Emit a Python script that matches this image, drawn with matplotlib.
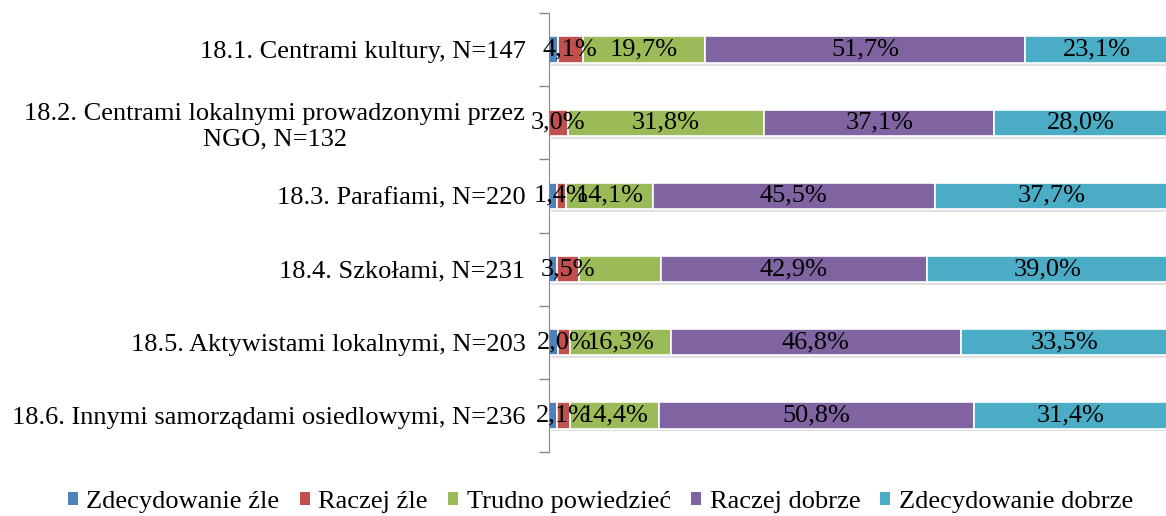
import numpy as np
import matplotlib.pyplot as plt
import matplotlib.patheffects as pe
from matplotlib.patches import Patch

plt.rcParams['font.family'] = ['Liberation Serif', 'DejaVu Serif']

categories = [
    '18.1. Centrami kultury, N=147',
    '18.2. Centrami lokalnymi prowadzonymi przez\nNGO, N=132',
    '18.3. Parafiami, N=220',
    '18.4. Szkołami, N=231',
    '18.5. Aktywistami lokalnymi, N=203',
    '18.6. Innymi samorządami osiedlowymi, N=236',
]
series_names = ['Zdecydowanie źle', 'Raczej źle', 'Trudno powiedzieć',
                'Raczej dobrze', 'Zdecydowanie dobrze']
zdecydowanie_zle = [1.4, 0.0, 1.3, 1.3, 1.4, 1.3]
raczej_zle = [4.1, 3.0, 1.4, 3.5, 2.0, 2.1]
trudno = [19.7, 31.8, 14.1, 13.3, 16.3, 14.4]
raczej_dobrze = [51.7, 37.1, 45.5, 42.9, 46.8, 50.8]
zdecydowanie_dobrze = [23.1, 28.0, 37.7, 39.0, 33.5, 31.4]
# which segments carry a value label in the original
show_label = [
    [False] * 6,
    [True] * 6,
    [True, True, True, False, True, True],
    [True] * 6,
    [True] * 6,
]
colors = ['#4F81BD', '#C0504D', '#9BBB59', '#8064A2', '#4BACC6']

data = [zdecydowanie_zle, raczej_zle, trudno, raczej_dobrze, zdecydowanie_dobrze]

fig = plt.figure(figsize=(11.66, 5.16), dpi=100)
ax = fig.add_axes([549 / 1166, 64 / 516, 619 / 1166, 439 / 516])

y = np.arange(len(categories))
left = np.zeros(len(categories))
shadow = [pe.SimplePatchShadow(offset=(1.5, -2), shadow_rgbFace='#aaaaaa', alpha=0.35), pe.Normal()]
for vals, name, col, shows in zip(data, series_names, colors, show_label):
    vals = np.array(vals)
    bars = ax.barh(y, vals, left=left, height=0.36, color=col, edgecolor='white',
                   linewidth=1.2)
    for b in bars:
        b.set_path_effects(shadow)
    for i, (v, s) in enumerate(zip(vals, shows)):
        if s and v > 0:
            ax.text(left[i] + v / 2, y[i], f'{v:.1f}%'.replace('.', ','),
                    ha='center', va='center', fontsize=19, color='black')
    left += vals

ax.set_xlim(0, 100)
ax.set_ylim(len(categories) - 0.5, -0.5)
ax.set_xticks([])
ax.set_yticks(y)
ax.set_yticklabels(categories, fontsize=19)
for lbl in ax.get_yticklabels():
    lbl.set_multialignment('center')
ax.tick_params(axis='y', which='major', length=0, pad=17)
ax.set_yticks(np.arange(-0.5, len(categories)), minor=True)
ax.tick_params(axis='y', which='minor', length=7, color='#888888', width=1)
for s in ['top', 'right', 'bottom']:
    ax.spines[s].set_visible(False)
ax.spines['left'].set_color('#888888')

handles = [Patch(facecolor=c, edgecolor='none') for c in colors]
fig.legend(handles, series_names, loc='center', bbox_to_anchor=(0.515, 0.028), ncol=5,
           frameon=False, fontsize=19, handlelength=0.38, handleheight=0.38,
           handletextpad=0.33, columnspacing=0.76)

fig.savefig('out.png', dpi=100)
